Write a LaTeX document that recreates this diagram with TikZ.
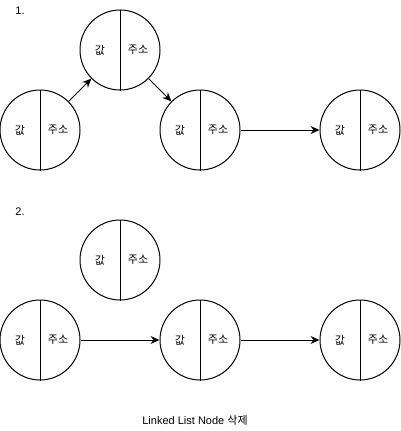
\documentclass[tikz,border=0pt]{standalone}
\usepackage{fontspec}
\setmainfont{Liberation Sans}
\newfontfamily\krfont{Noto Sans CJK KR}
\usetikzlibrary{arrows.meta}
\tikzset{
  llcirc/.style={circle, draw, line width=1pt, minimum size=80pt, inner sep=0pt},
  lltext/.style={inner sep=0pt, font=\krfont\fontsize{11}{13}\selectfont},
  lbl/.style={inner sep=0pt, font=\fontsize{11}{13}\selectfont},
  link/.style={line width=1pt, -{Stealth[length=9pt,width=8pt,inset=3pt]}}
}
\newcommand\llnode[3]{%
  \node[llcirc] (#1) at (#2,#3) {};
  \draw[line width=1pt] (#1.north) -- (#1.south);
  \node[lltext] (#1v) at ([xshift=-20pt]#1.center) {값};
  \node[lltext] (#1a) at ([xshift=18pt]#1.center) {주소};
}
\begin{document}
\begin{tikzpicture}[x=1pt,y=-1pt]
\useasboundingbox (0,0) rectangle (401,431);
\node[lbl] (t1) at (20,11) {1.};
\llnode{a}{40}{130}
\llnode{b}{120}{50}
\llnode{c}{200}{130}
\llnode{d}{360}{130}
\draw[link] (a) -- (b);
\draw[link] (b) -- (c);
\draw[link] (c) -- (d);
\node[lbl] (t2) at (20,212) {2.};
\llnode{e}{120}{260}
\llnode{f}{40}{340}
\llnode{g}{200}{340}
\llnode{h}{360}{340}
\draw[link] (f) -- (g);
\draw[link] (g) -- (h);
\node[lbl] (cap) at (195,420) {Linked List Node {\krfont 삭제}};
\end{tikzpicture}
\end{document}
